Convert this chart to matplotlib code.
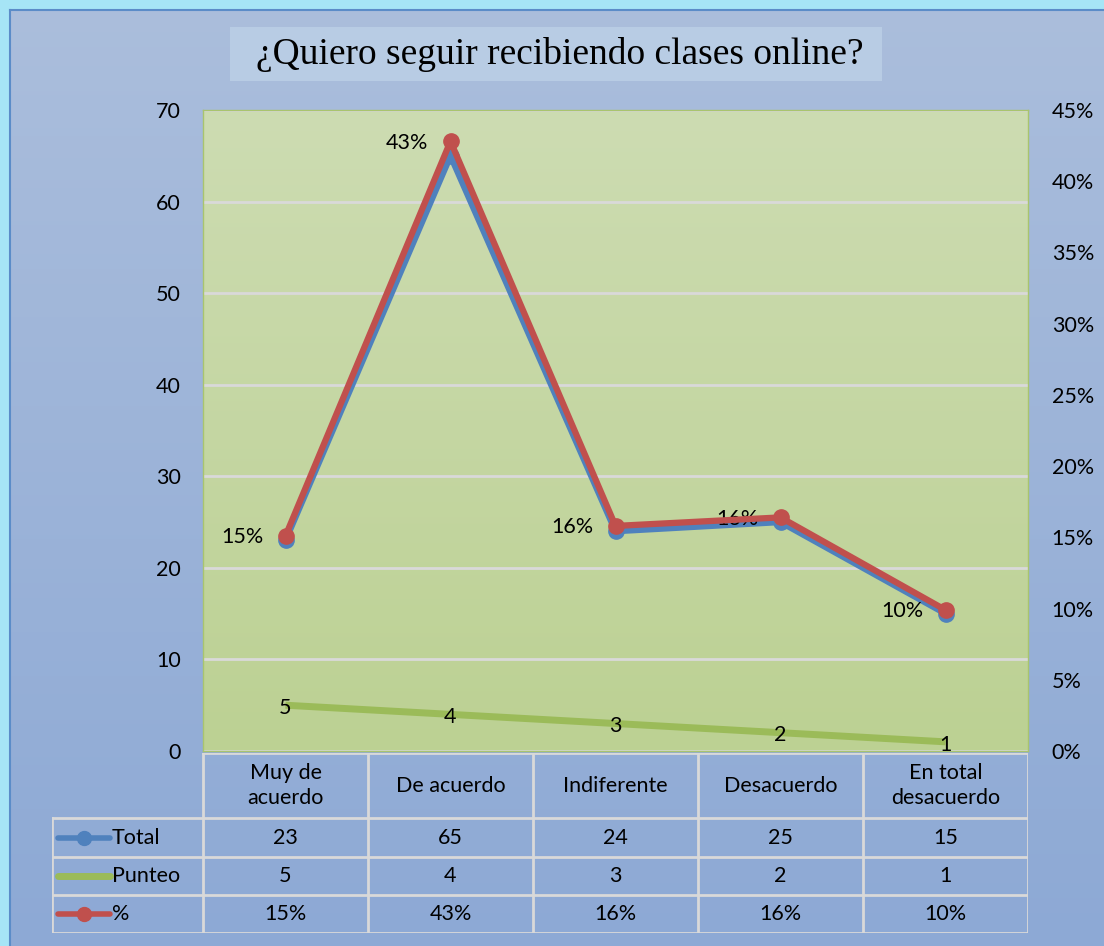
import numpy as np
import matplotlib.pyplot as plt
from matplotlib.colors import LinearSegmentedColormap
from matplotlib.patches import Rectangle

# data
categories = ["Muy de\nacuerdo", "De acuerdo", "Indiferente", "Desacuerdo", "En total\ndesacuerdo"]
total = [23, 65, 24, 25, 15]
punteo = [5, 4, 3, 2, 1]
pct = [15.1, 42.8, 15.8, 16.4, 9.9]
pct_labels = ["15%", "43%", "16%", "16%", "10%"]

BLUE = "#4f81bd"
RED = "#c0504d"
GREEN = "#9bbb59"
GRID = "#d9d9d9"
FONT = "Lato"
FS = 15.5

W, H = 1104, 946
fig = plt.figure(figsize=(W / 100, H / 100), dpi=100)


def fx(px):
    return px / W


def fy(py):
    return 1 - py / H


# outer background (blue gradient + cyan frame)
bg = fig.add_axes([0, 0, 1, 1], zorder=-10)
bg.axis("off")
grad = np.linspace(0, 1, 256)[:, None]
bg.imshow(grad, cmap=LinearSegmentedColormap.from_list("bg", ["#abbedc", "#8da9d5"]),
          extent=[0, 1, 0, 1], aspect="auto")
bg.add_patch(Rectangle((0, fy(10)), 1, 1 - fy(10), color="#a6e5f6", lw=0))
bg.add_patch(Rectangle((0, 0), fx(9), 1, color="#a6e5f6", lw=0))
bg.plot([fx(9.5), 1], [fy(10.5), fy(10.5)], color="#5b8cc8", lw=1.5)
bg.plot([fx(9.5), fx(9.5)], [0, fy(10.5)], color="#5b8cc8", lw=1.5)
bg.set_xlim(0, 1)
bg.set_ylim(0, 1)

# title
bg.add_patch(Rectangle((fx(230), fy(81)), fx(882) - fx(230), (81 - 27) / H,
                       color="#b8cce4", lw=0))
fig.text(fx(560), fy(55), "¿Quiero seguir recibiendo clases online?",
         family="Liberation Serif", fontsize=27, ha="center", va="center")

# main plot area
ax = fig.add_axes([fx(203), fy(751), fx(1028) - fx(203), (751 - 110) / H])
x = np.arange(len(total))
ax.imshow(grad, cmap=LinearSegmentedColormap.from_list("pa", ["#cddcb2", "#bcd193"]),
          extent=[-0.5, 4.5, 0, 70], aspect="auto", zorder=0)
ax.set_xlim(-0.5, 4.5)
ax.set_ylim(0, 70)
ax.set_yticks(range(0, 71, 10))
ax.set_xticks([])
ax.yaxis.grid(True, color=GRID, lw=2)
for s in ax.spines.values():
    s.set_color("#a9c46e")
    s.set_linewidth(1)
ax.tick_params(axis="y", length=0, pad=16, labelsize=FS)
for t in ax.get_yticklabels():
    t.set_family(FONT)

ax.plot(x, punteo, color=GREEN, lw=5, solid_capstyle="butt", zorder=3)
for i, v in enumerate(punteo):
    ax.annotate(str(v), (i, v), xytext=(0, -2), textcoords="offset points",
                ha="center", va="center", fontsize=FS, family=FONT, zorder=4)
ax.plot(x, total, color=BLUE, lw=4.5, marker="o", ms=11, zorder=5)

ax2 = ax.twinx()
ax2.set_ylim(0, 45)
ax2.set_yticks(range(0, 46, 5))
ax2.set_yticklabels([f"{v}%" for v in range(0, 46, 5)])
ax2.tick_params(axis="y", length=0, pad=17, labelsize=FS)
for t in ax2.get_yticklabels():
    t.set_family(FONT)
for s in ax2.spines.values():
    s.set_visible(False)
ax2.plot(x, pct, color=RED, lw=4.5, marker="o", ms=11, zorder=5)
for i, (v, lab) in enumerate(zip(pct, pct_labels)):
    ax2.annotate(lab, (i, v), xytext=(-16, -1), textcoords="offset points",
                 ha="right", va="center", fontsize=FS, family=FONT)

# data table below the plot
left_ext = -0.5 - (203 - 52) / 165
tab = fig.add_axes([fx(52), fy(933), fx(1028) - fx(52), (933 - 753) / H])
tab.set_xlim(left_ext, 4.5)
tab.set_ylim(180, 0)
tab.axis("off")
rows_y = [0, 65, 104, 142, 180]
for xv in np.arange(-0.5, 4.6, 1):
    tab.plot([xv, xv], [0, 180], color=GRID, lw=2)
tab.plot([left_ext, left_ext], [65, 180], color=GRID, lw=2)
tab.plot([-0.5, 4.5], [0, 0], color=GRID, lw=2)
for yv in rows_y[1:]:
    tab.plot([left_ext, 4.5], [yv, yv], color=GRID, lw=2)

for i, c in enumerate(categories):
    tab.text(i, 32.5, c, ha="center", va="center", fontsize=FS, family=FONT,
             linespacing=1.35)

table_rows = [
    ("Total", [str(v) for v in total], BLUE, True),
    ("Punteo", [str(v) for v in punteo], GREEN, False),
    ("%", pct_labels, RED, True),
]
px = 1 / 165
for r, (name, vals, col, mk) in enumerate(table_rows):
    yc = (rows_y[r + 1] + rows_y[r + 2]) / 2
    tab.plot([left_ext + 6 * px, left_ext + 58 * px], [yc, yc], color=col,
             lw=5 if not mk else 4, solid_capstyle="round")
    if mk:
        tab.plot([left_ext + 32 * px], [yc], marker="o", ms=10, color=col)
    tab.text(left_ext + 60 * px, yc, name, ha="left", va="center", fontsize=FS, family=FONT)
    for i, v in enumerate(vals):
        tab.text(i, yc, v, ha="center", va="center", fontsize=FS, family=FONT)

plt.savefig("out.png", dpi=100)
